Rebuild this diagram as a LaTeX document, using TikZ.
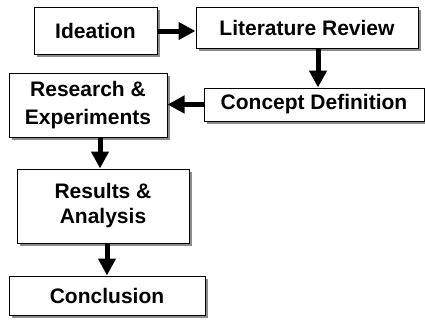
\documentclass[tikz,border=0pt]{standalone}
\usepackage{fontspec}
\setmainfont{Liberation Sans}
\usepackage{tikz}
\usetikzlibrary{arrows.meta,positioning,shadows}

\begin{document}
\begin{tikzpicture}[x=1pt,y=-1pt,
    stepbox/.style={draw, line width=1pt, fill=white, align=center,
        inner sep=0pt, font=\fontsize{21}{25}\bfseries,
        drop shadow={shadow xshift=2.5pt, shadow yshift=-2.5pt, fill=black!45, opacity=1}},
    bigarrow/.style={line width=5pt, -{Triangle[length=17pt,width=17pt]}}]
    % page size
    \useasboundingbox (0,0) rectangle (425,322);

    % the boxes
    \node[stepbox, minimum width=123pt, minimum height=47pt] (idea) at (95.5,31) {Ideation};
    \node[stepbox, minimum width=222pt, minimum height=41pt] (lit) at (307,27.5) {Literature Review};
    \node[stepbox, minimum width=220pt, minimum height=33pt] (concept) at (314,104.5) {Concept Definition};
    \node[stepbox, minimum width=158pt, minimum height=64pt] (research) at (88,105) {Research \&\\[3pt] Experiments};
    \node[stepbox, minimum width=172pt, minimum height=74pt] (results) at (103,206) {Results \&\\ Analysis};
    \node[stepbox, minimum width=196pt, minimum height=39pt] (concl) at (107,295.5) {Conclusion};

    % arrows between the steps
    \draw[bigarrow] (idea.east) -- (idea.east -| lit.west);
    \draw[bigarrow] ([xshift=11pt]lit.south) -- ([xshift=11pt]lit.south |- concept.north);
    \draw[bigarrow] (concept.west) -- (concept.west -| research.east);
    \draw[bigarrow] ([xshift=12pt]research.south) -- ([xshift=12pt]research.south |- results.north);
    \draw[bigarrow] ([xshift=4pt]results.south) -- ([xshift=4pt]results.south |- concl.north);
\end{tikzpicture}
\end{document}
